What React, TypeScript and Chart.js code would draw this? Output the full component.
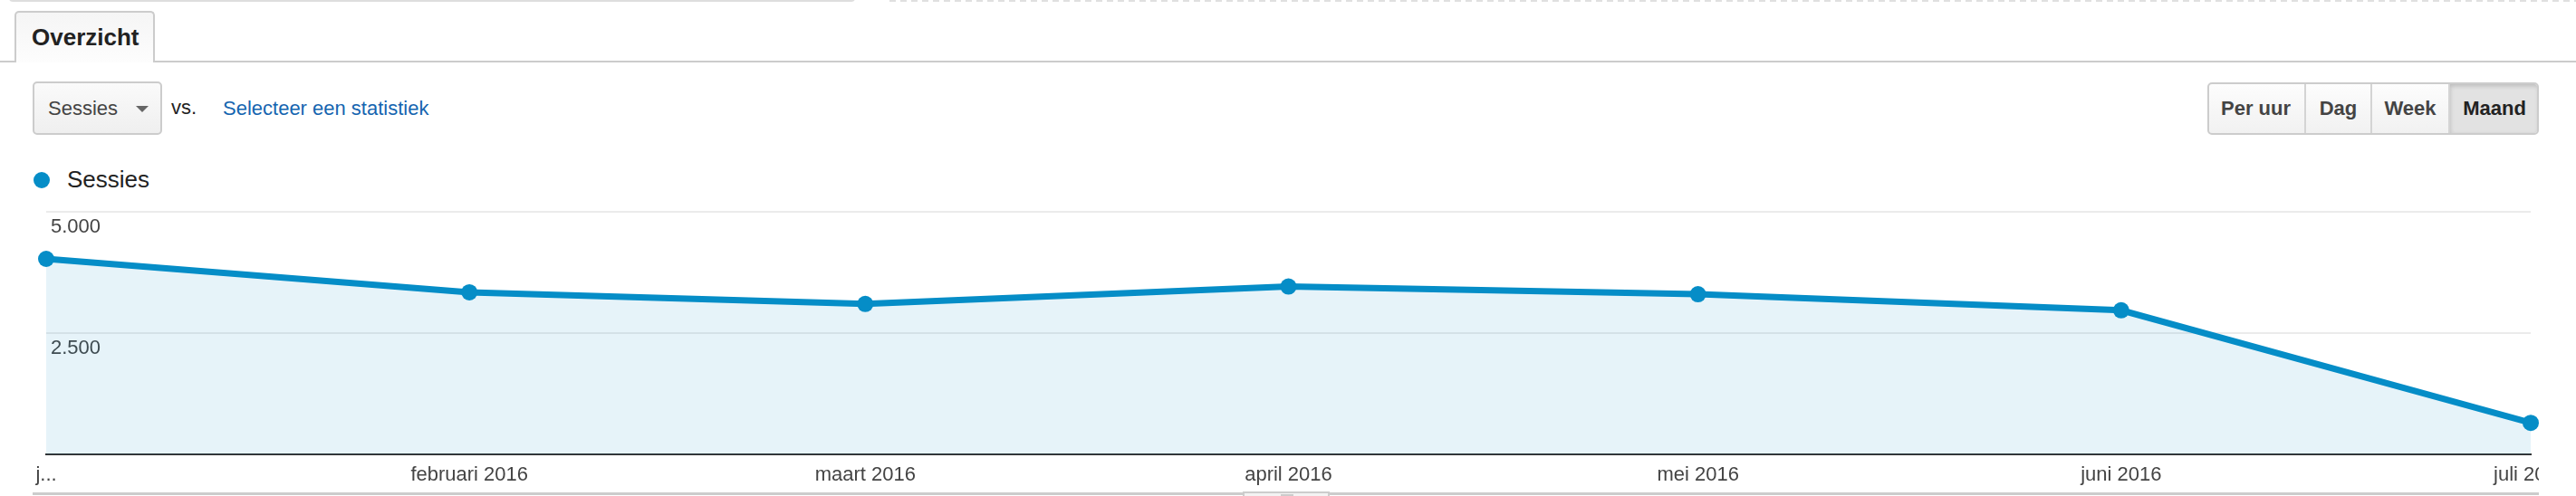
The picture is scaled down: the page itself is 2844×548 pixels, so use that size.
import React, { useEffect, useRef } from "react";
import { Chart, registerables } from "chart.js";

Chart.register(...registerables);

// ---- data ----
const monthStarts = ["2016-01-01", "2016-02-01", "2016-03-01", "2016-04-01", "2016-05-01", "2016-06-01", "2016-07-01"];
const xTickLabels = ["j...", "februari 2016", "maart 2016", "april 2016", "mei 2016", "juni 2016", "juli 2016"];
const sessions = [4030, 3340, 3100, 3460, 3300, 2970, 650];
const yMax = 5000;
const yStep = 2500;
const seriesName = "Sessies";
const intervalButtons = ["Per uur", "Dag", "Week", "Maand"];
const activeInterval = "Maand";

const FONT = "Arial, 'Liberation Sans', Helvetica, sans-serif";
const LINE = "#058dc7";

const dayOffsets = monthStarts.map(
  (d) => (Date.parse(d + "T00:00:00Z") - Date.parse(monthStarts[0] + "T00:00:00Z")) / 86400000
);

function fmt(v: number) {
  return String(v).replace(/\B(?=(\d{3})+(?!\d))/g, ".");
}

// baseline-positioned text helper (line-height = font size)
function T(props: { x: number; b: number; s: number; color: string; bold?: boolean; children: any }) {
  const top = props.b - 0.8465 * props.s;
  return (
    <div
      style={{
        position: "absolute",
        left: props.x,
        top,
        fontSize: props.s,
        lineHeight: props.s + "px",
        fontFamily: FONT,
        fontWeight: props.bold ? "bold" : "normal",
        color: props.color,
        whiteSpace: "nowrap",
      }}
    >
      {props.children}
    </div>
  );
}

const btnEdges = [2437, 2544, 2617, 2703, 2803];

export default function App() {
  const ref = useRef<HTMLCanvasElement | null>(null);

  useEffect(() => {
    if (!ref.current) return;
    const chart = new Chart(ref.current, {
      type: "line",
      data: {
        datasets: [
          {
            label: seriesName,
            data: dayOffsets.map((x, i) => ({ x, y: sessions[i] })),
            borderColor: LINE,
            borderWidth: 7,
            backgroundColor: "rgba(5,141,199,0.1)",
            fill: "origin",
            tension: 0,
            pointRadius: 9,
            pointBorderWidth: 0,
            pointBackgroundColor: LINE,
            clip: false as any,
          },
        ],
      },
      options: {
        animation: false,
        responsive: false,
        maintainAspectRatio: false,
        layout: { padding: { left: 51, right: 7, top: 34, bottom: 0 } },
        plugins: { legend: { display: false }, tooltip: { enabled: false } },
        scales: {
          x: {
            type: "linear",
            min: dayOffsets[0],
            max: dayOffsets[dayOffsets.length - 1],
            afterBuildTicks: (scale: any) => {
              scale.ticks = dayOffsets.map((value) => ({ value }));
            },
            afterFit: (scale: any) => {
              scale.height = 38;
              scale.paddingLeft = 0;
              scale.paddingRight = 0;
            },
            grid: { display: true, drawOnChartArea: false, drawTicks: false, color: "rgba(0,0,0,0)" },
            border: { display: true, color: "#333", width: 2 },
            ticks: {
              autoSkip: false,
              maxRotation: 0,
              minRotation: 0,
              padding: 10,
              color: "#444",
              font: { family: FONT, size: 22 },
              callback: (_v: any, i: number) => xTickLabels[i],
            },
          },
          y: {
            min: 0,
            max: yMax,
            afterFit: (scale: any) => {
              scale.width = 0;
            },
            grid: {
              drawTicks: false,
              lineWidth: 2,
              color: (ctx: any) => (ctx.tick && ctx.tick.value === 0 ? "rgba(0,0,0,0)" : "#ebebeb"),
            },
            border: { display: false },
            ticks: {
              stepSize: yStep,
              mirror: true,
              padding: 5,
              labelOffset: 17,
              color: "#444",
              font: { family: FONT, size: 22 },
              textStrokeColor: "#fff",
              textStrokeWidth: 5,
              callback: (v: any) => (Number(v) === 0 ? "" : fmt(Number(v))),
            } as any,
          },
        },
      },
    });
    return () => chart.destroy();
  }, []);

  return (
    <div
      style={{
        position: "absolute",
        left: 0,
        top: 0,
        width: 2844,
        height: 548,
        overflow: "hidden",
        background: "#fff",
        fontFamily: FONT,
      }}
    >
      {/* top edges */}
      <div
        style={{
          position: "absolute",
          left: 10,
          top: -6,
          width: 934,
          height: 8,
          boxSizing: "border-box",
          border: "2px solid #dedede",
          borderRadius: 4,
        }}
      />
      <div
        style={{
          position: "absolute",
          left: 982,
          top: 0,
          width: 1862,
          height: 2,
          background: "repeating-linear-gradient(to right, #e0e0e0 0 7px, transparent 7px 12px)",
        }}
      />

      {/* tab strip */}
      <div style={{ position: "absolute", left: 0, top: 67, width: 2844, height: 2, background: "#ccc" }} />
      <div
        style={{
          position: "absolute",
          left: 16,
          top: 12,
          width: 155,
          height: 57,
          boxSizing: "border-box",
          border: "2px solid #ccc",
          borderBottom: "none",
          borderRadius: "5px 5px 0 0",
          background: "linear-gradient(#f5f5f5, #fdfdfd)",
        }}
      />
      <T x={35} b={50} s={26} color="#222" bold>
        Overzicht
      </T>

      {/* metric selector */}
      <div
        style={{
          position: "absolute",
          left: 36,
          top: 90,
          width: 143,
          height: 59,
          boxSizing: "border-box",
          border: "2px solid #ccc",
          borderRadius: 5,
          background: "linear-gradient(#fafafa, #efefef)",
        }}
      />
      <T x={53} b={127.5} s={22} color="#444">
        {seriesName}
      </T>
      <div
        style={{
          position: "absolute",
          left: 150,
          top: 117,
          width: 0,
          height: 0,
          borderLeft: "7.5px solid transparent",
          borderRight: "7.5px solid transparent",
          borderTop: "7px solid #666",
        }}
      />
      <T x={189} b={127} s={22} color="#222">
        vs.
      </T>
      <T x={246} b={127.5} s={22} color="#1565b0">
        Selecteer een statistiek
      </T>

      {/* interval buttons */}
      <div
        style={{
          position: "absolute",
          left: btnEdges[0],
          top: 91,
          width: btnEdges[4] - btnEdges[0],
          height: 58,
          boxSizing: "border-box",
          border: "2px solid #ccc",
          borderRadius: 5,
          overflow: "hidden",
          background: "linear-gradient(#fdfdfd, #f1f1f1)",
        }}
      >
        {intervalButtons.map((b, i) => {
          const active = b === activeInterval;
          return (
            <div
              key={b}
              style={{
                position: "absolute",
                left: btnEdges[i] - btnEdges[0] - 2,
                top: 0,
                width: btnEdges[i + 1] - btnEdges[i],
                height: 54,
                boxSizing: "border-box",
                borderLeft: i === 0 ? "none" : "2px solid #d4d4d4",
                background: active ? "#e2e2e2" : "transparent",
                boxShadow: active ? "inset 0 2px 5px rgba(0,0,0,0.18)" : "none",
                textAlign: "center",
                lineHeight: "54px",
                fontSize: 22,
                fontWeight: "bold",
                color: active ? "#222" : "#444",
                fontFamily: FONT,
              }}
            >
              {b}
            </div>
          );
        })}
      </div>

      {/* legend */}
      <div
        style={{
          position: "absolute",
          left: 37,
          top: 190,
          width: 18,
          height: 18,
          borderRadius: "50%",
          background: LINE,
        }}
      />
      <T x={74} b={206.7} s={26} color="#222">
        {seriesName}
      </T>

      {/* chart */}
      <canvas
        ref={ref}
        width={2803}
        height={340}
        style={{ position: "absolute", left: 0, top: 200, width: 2803, height: 340 }}
      />

      {/* bottom edge */}
      <div style={{ position: "absolute", left: 36, top: 544, width: 2767, height: 3, background: "#ccc" }} />
      <div
        style={{
          position: "absolute",
          left: 1372,
          top: 543,
          width: 96,
          height: 12,
          boxSizing: "border-box",
          border: "2px solid #ccc",
          background: "#f3f3f3",
        }}
      />
      <div style={{ position: "absolute", left: 1414, top: 546, width: 14, height: 2, background: "#ccc" }} />
    </div>
  );
}
